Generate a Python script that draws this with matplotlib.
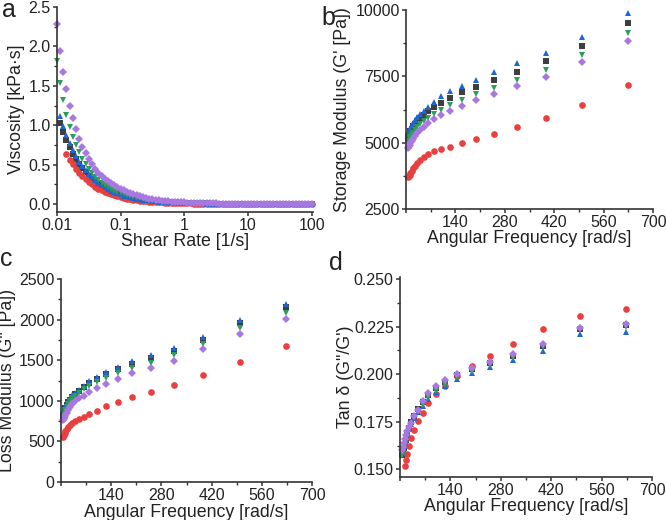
import numpy as np
import matplotlib.pyplot as plt
from matplotlib.ticker import FixedLocator, MultipleLocator

plt.rcParams['font.family'] = ['Liberation Sans', 'DejaVu Sans']

nan = np.nan

# ---- panel a: viscosity vs shear rate ----
shear = [0.01, 0.0112, 0.0126, 0.0141, 0.0158, 0.0178, 0.02, 0.0224, 0.0251, 0.0282,
         0.0316, 0.0355, 0.0398, 0.0447, 0.0501, 0.0562, 0.0631, 0.0708, 0.0794, 0.0891,
         0.1, 0.112, 0.126, 0.141, 0.158, 0.178, 0.2, 0.224, 0.251, 0.282,
         0.316, 0.355, 0.398, 0.447, 0.501, 0.562, 0.631, 0.708, 0.794, 0.891,
         1, 1.12, 1.26, 1.41, 1.58, 1.78, 2, 2.24, 2.51, 2.82,
         3.16, 3.55, 3.98, 4.47, 5.01, 5.62, 6.31, 7.08, 7.94, 8.91,
         10, 11.2, 12.6, 14.1, 15.8, 17.8, 20, 22.4, 25.1, 28.2,
         31.6, 35.5, 39.8, 44.7, 50.1, 56.2, 63.1, 70.8, 79.4, 89.1, 100]

visc_black = [nan, 1.03, 0.91, 0.81, 0.72, 0.64, 0.57, 0.51, 0.455, 0.405,
              0.36, 0.32, 0.285, 0.255, 0.23, 0.205, 0.183, 0.163, 0.146, 0.131,
              0.117, 0.105, 0.094, 0.084, 0.075, 0.067, 0.06, 0.054, 0.048, 0.043,
              0.039, 0.035, 0.031, 0.028, 0.025, 0.023, 0.02, 0.018, 0.016, 0.015,
              0.013, 0.012, 0.011, 0.01, 0.009, 0.008, 0.007, 0.006, 0.006, 0.005,
              0.005, 0.004, 0.004, 0.004, 0.003, 0.003, 0.003, 0.003, 0.002, 0.002] + [0.002] * 21
visc_red = [nan, nan, nan, 0.635, 0.565, 0.505, 0.45, 0.40, 0.355, 0.315,
            0.28, 0.25, 0.222, 0.198, 0.176, 0.157, 0.14, 0.125, 0.111, 0.099,
            0.089, 0.079, 0.071, 0.063, 0.056, 0.05, 0.045, 0.04, 0.036, 0.032,
            0.029, 0.026, 0.023, 0.021, 0.019, 0.017, 0.015, 0.013, 0.012, 0.011,
            0.01, 0.009, 0.008, 0.007, 0.006, 0.006, 0.005, 0.005, 0.004, 0.004,
            0.003, 0.003, 0.003, 0.003, 0.002, 0.002, 0.002, 0.002, 0.002, 0.002] + [0.001] * 21
visc_blue = [nan, 1.12, 0.99, 0.875, 0.78, 0.69, 0.61, 0.54, 0.48, 0.43,
             0.38, 0.34, 0.30, 0.27, 0.24, 0.215, 0.19, 0.17, 0.152, 0.136,
             0.122, 0.109, 0.098, 0.088, 0.079, 0.071, 0.063, 0.057, 0.051, 0.046,
             0.041, 0.037, 0.033, 0.03, 0.027, 0.024, 0.022, 0.02, 0.018, 0.016,
             0.014, 0.013, 0.012, 0.011, 0.01, 0.009, 0.008, 0.007, 0.006, 0.006,
             0.005, 0.005, 0.004, 0.004, 0.004, 0.003, 0.003, 0.003, 0.003, 0.002] + [0.002] * 21
visc_green = [1.81, 1.53, 1.32, 1.13, 0.98, 0.855, 0.75, 0.655, 0.575, 0.505,
              0.445, 0.39, 0.345, 0.305, 0.27, 0.24, 0.215, 0.19, 0.17, 0.152,
              0.137, 0.123, 0.11, 0.099, 0.089, 0.08, 0.072, 0.064, 0.058, 0.052,
              0.047, 0.042, 0.038, 0.034, 0.031, 0.028, 0.025, 0.022, 0.02, 0.018,
              0.016, 0.015, 0.013, 0.012, 0.011, 0.01, 0.009, 0.008, 0.007, 0.007,
              0.006, 0.005, 0.005, 0.004, 0.004, 0.004, 0.003, 0.003, 0.003, 0.003] + [0.002] * 21
visc_purple = [2.29, 1.94, 1.68, 1.46, 1.25, 1.09, 0.95, 0.83, 0.73, 0.645,
               0.57, 0.505, 0.45, 0.40, 0.36, 0.32, 0.29, 0.262, 0.237, 0.215,
               0.195, 0.175, 0.157, 0.14, 0.125, 0.111, 0.099, 0.088, 0.078, 0.07,
               0.062, 0.056, 0.05, 0.045, 0.041, 0.037, 0.033, 0.03, 0.027, 0.024,
               0.022, 0.02, 0.018, 0.016, 0.015, 0.013, 0.012, 0.011, 0.01, 0.009,
               0.008, 0.007, 0.007, 0.006, 0.006, 0.005, 0.005, 0.004, 0.004, 0.004,
               0.003, 0.003, 0.003, 0.003, 0.003, 0.003, 0.003, 0.003, 0.003, 0.003] + [0.002] * 11

# ---- panels b-d: frequency sweep ----
freq = [6.28, 7.91, 9.96, 12.5, 15.8, 19.9, 25.0, 31.5, 39.6, 49.9, 62.8,
        79.1, 99.6, 125, 158, 199, 250, 315, 396, 499, 628]

gp_black = [5210, 5280, 5350, 5430, 5520, 5610, 5710, 5810, 5920, 6040, 6180,
            6340, 6510, 6700, 6900, 7115, 7365, 7680, 8070, 8655, 9520]
gp_red = [3700, 3745, 3790, 3870, 3950, 4030, 4105, 4225, 4350, 4470, 4570,
          4670, 4760, 4850, 4970, 5135, 5345, 5585, 5920, 6435, 7165]
gp_blue = [5330, 5400, 5480, 5560, 5650, 5750, 5850, 5960, 6070, 6200, 6360,
           6550, 6740, 6940, 7150, 7380, 7650, 7990, 8390, 9000, 9900]
gp_green = [4990, 5050, 5120, 5200, 5290, 5380, 5480, 5580, 5690, 5810, 5940,
            6080, 6240, 6415, 6615, 6840, 7075, 7365, 7740, 8305, 9145]
gp_purple = [4800, 4850, 4900, 4970, 5050, 5140, 5240, 5350, 5470, 5600, 5740,
             5890, 6050, 6190, 6400, 6615, 6850, 7140, 7490, 8045, 8820]

gpp_black = [810, 840, 875, 910, 945, 980, 1015, 1050, 1080, 1115, 1165,
             1218, 1270, 1328, 1386, 1448, 1521, 1615, 1747, 1953, 2150]
gpp_red = [555, 575, 600, 625, 650, 675, 700, 725, 750, 775, 805,
           840, 880, 930, 980, 1043, 1110, 1200, 1322, 1480, 1672]
gpp_blue = [830, 860, 895, 930, 965, 1000, 1035, 1070, 1100, 1135, 1185,
            1240, 1295, 1357, 1418, 1490, 1563, 1653, 1788, 1994, 2191]
gpp_green = [790, 820, 855, 890, 925, 960, 995, 1030, 1060, 1095, 1140,
             1185, 1233, 1283, 1337, 1398, 1468, 1563, 1694, 1892, 2077]
gpp_purple = [760, 775, 795, 820, 855, 890, 925, 960, 995, 1030, 1065,
              1105, 1152, 1213, 1267, 1337, 1406, 1493, 1633, 1821, 2006]

tan_black = [0.1575, 0.159, 0.161, 0.163, 0.1655, 0.1685, 0.1715, 0.1748, 0.178, 0.1815, 0.1852,
             0.189, 0.1925, 0.196, 0.1995, 0.2025, 0.206, 0.2095, 0.215, 0.2238, 0.2258]
tan_red = [nan, nan, nan, 0.1516, 0.1547, 0.1583, 0.1623, 0.1667, 0.1705, 0.1754, 0.1798,
           0.1846, 0.1895, 0.194, 0.199, 0.2045, 0.2095, 0.2156, 0.2237, 0.2305, 0.234]
tan_blue = [0.159, 0.1605, 0.1622, 0.164, 0.166, 0.1685, 0.171, 0.1738, 0.1768, 0.18, 0.1835,
            0.187, 0.1905, 0.194, 0.1972, 0.2007, 0.2035, 0.2072, 0.2121, 0.2211, 0.2222]
tan_green = [0.157, 0.1585, 0.160, 0.162, 0.1645, 0.1675, 0.1705, 0.1735, 0.177, 0.1805, 0.184,
             0.1875, 0.191, 0.1945, 0.1978, 0.2012, 0.2048, 0.2085, 0.2145, 0.2235, 0.2245]
tan_purple = [0.160, 0.162, 0.1641, 0.166, 0.168, 0.170, 0.1722, 0.1746, 0.1782, 0.1813, 0.186,
              0.190, 0.1937, 0.197, 0.2002, 0.2033, 0.2065, 0.2104, 0.2156, 0.2244, 0.2265]

colors = ['#3f3f3f', '#e8403e', '#1f66d4', '#2a9e5c', '#a878e0']
markers = ['s', 'o', '^', 'v', 'D']
msizes = [4.2, 4.8, 5.0, 5.0, 4.2]

W, H = 666, 520
fig = plt.figure(figsize=(W / 100, H / 100), dpi=100)
ink = '#222222'
lab_fs = 12.8
tick_fs = 11.5


def add_px(l, t, r, b):
    return fig.add_axes([l / W, 1 - b / H, (r - l) / W, (b - t) / H])


def style(ax):
    for s in ['top', 'right']:
        ax.spines[s].set_visible(False)
    for s in ['left', 'bottom']:
        ax.spines[s].set_linewidth(1.2)
        ax.spines[s].set_color('#333333')
    ax.tick_params(which='major', direction='out', length=3, width=1.1,
                   labelsize=tick_fs, colors='#333333', labelcolor=ink, pad=1.5)
    ax.tick_params(which='minor', direction='out', length=2, width=1.0, colors='#333333')


def scatter_all(ax, x, ys):
    for y, c, m, ms in zip(ys, colors, markers, msizes):
        ax.plot(x, y, linestyle='none', marker=m, color=c, markersize=ms,
                markeredgewidth=0, clip_on=False)


# panel a
ax = add_px(57, 7, 313, 212)
style(ax)
scatter_all(ax, shear, [visc_black, visc_red, visc_blue, visc_green, visc_purple])
ax.set_xscale('log')
ax.set_xlim(0.01, 105)
ax.set_ylim(-0.1, 2.5)
ax.xaxis.set_major_locator(FixedLocator([0.01, 0.1, 1, 10, 100]))
ax.xaxis.set_minor_locator(FixedLocator([]))
ax.set_xticklabels(['0.01', '0.1', '1', '10', '100'])
ax.set_yticks([0, 0.5, 1.0, 1.5, 2.0, 2.5])
ax.set_yticklabels(['0.0', '0.5', '1.0', '1.5', '2.0', '2.5'])
ax.yaxis.set_minor_locator(MultipleLocator(0.25))
ax.set_xlabel('Shear Rate [1/s]', fontsize=lab_fs, color=ink)
ax.set_ylabel('Viscosity [kPa·s]', fontsize=lab_fs, color=ink)
ax.xaxis.set_label_coords(0.5, -0.10)
ax.yaxis.set_label_coords(-0.125, 0.5)


def freq_axis(ax):
    ax.set_xlim(0, 700)
    ax.set_xticks([0, 140, 280, 420, 560, 700])
    ax.set_xticklabels(['', '140', '280', '420', '560', '700'])
    ax.xaxis.set_minor_locator(MultipleLocator(70))
    ax.set_xlabel('Angular Frequency [rad/s]', fontsize=lab_fs, color=ink)


# panel b
ax = add_px(406, 10, 653, 209)
style(ax)
scatter_all(ax, freq, [gp_black, gp_red, gp_blue, gp_green, gp_purple])
freq_axis(ax)
ax.set_ylim(2500, 10000)
ax.set_yticks([2500, 5000, 7500, 10000])
ax.yaxis.set_minor_locator(MultipleLocator(1250))
ax.set_ylabel("Storage Modulus (G' [Pa])", fontsize=lab_fs, color=ink)
ax.xaxis.set_label_coords(0.5, -0.105)
ax.yaxis.set_label_coords(-0.224, 0.5)

# panel c
ax = add_px(61, 279, 312, 482)
style(ax)
scatter_all(ax, freq, [gpp_black, gpp_red, gpp_blue, gpp_green, gpp_purple])
freq_axis(ax)
ax.set_ylim(0, 2500)
ax.set_yticks([0, 500, 1000, 1500, 2000, 2500])
ax.yaxis.set_minor_locator(MultipleLocator(250))
ax.set_ylabel('Loss Modulus (G" [Pa])', fontsize=lab_fs, color=ink)
ax.xaxis.set_label_coords(0.5, -0.109)
ax.yaxis.set_label_coords(-0.179, 0.5)

# panel d
ax = add_px(400, 277, 652, 477)
style(ax)
scatter_all(ax, freq, [tan_black, tan_red, tan_blue, tan_green, tan_purple])
freq_axis(ax)
ax.set_ylim(0.146, 0.251)
ax.set_yticks([0.150, 0.175, 0.200, 0.225, 0.250])
ax.set_yticklabels(['0.150', '0.175', '0.200', '0.225', '0.250'])
ax.yaxis.set_minor_locator(MultipleLocator(0.0125))
ax.set_ylabel('Tan δ (G"/G\')', fontsize=lab_fs, color=ink)
ax.xaxis.set_label_coords(0.5, -0.103)
ax.yaxis.set_label_coords(-0.183, 0.5)

# panel letters
for txt, x, y in [('a', 2, 17), ('b', 321, 25), ('c', 0, 266), ('d', 329, 270)]:
    fig.text(x / W, 1 - y / H, txt, fontsize=18, color=ink, ha='left', va='baseline')

fig.savefig('out.png', dpi=100)
